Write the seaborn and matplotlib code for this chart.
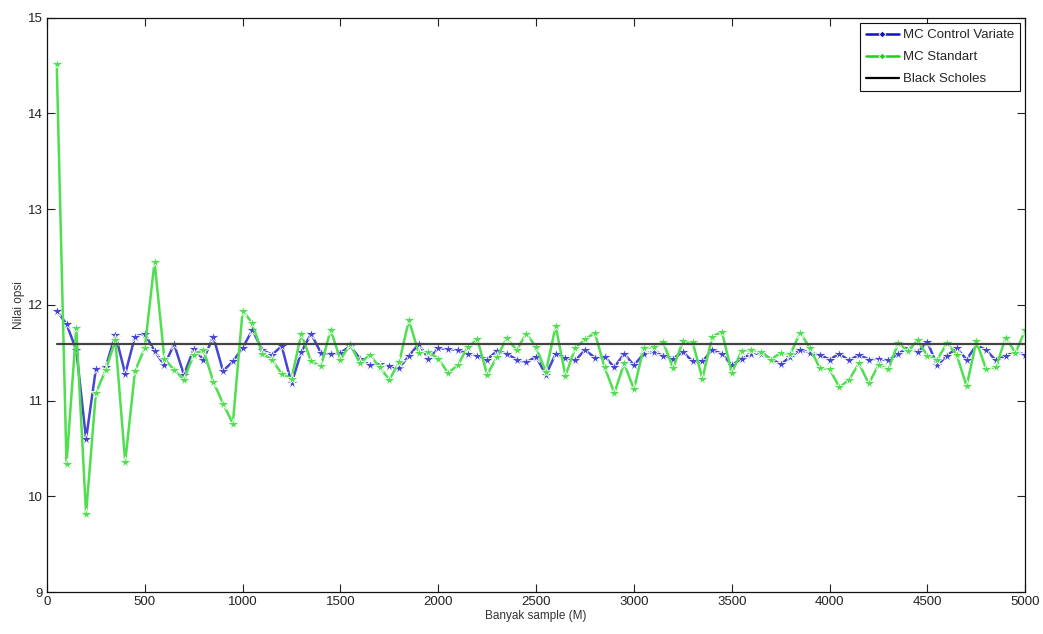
import matplotlib
matplotlib.use("Agg")
import matplotlib.pyplot as plt
import seaborn as sns
import pandas as pd

sample_sizes = list(range(50, 5001, 50))

mc_control_variate = [
    11.94, 11.80, 11.53, 10.60, 11.33, 11.35, 11.69, 11.28, 11.67, 11.70,
    11.52, 11.37, 11.59, 11.27, 11.54, 11.43, 11.67, 11.31, 11.41, 11.55,
    11.74, 11.53, 11.48, 11.57, 11.18, 11.51, 11.70, 11.50, 11.49, 11.50,
    11.57, 11.44, 11.37, 11.38, 11.36, 11.34, 11.47, 11.59, 11.44, 11.55,
    11.54, 11.53, 11.49, 11.47, 11.43, 11.52, 11.49, 11.43, 11.40, 11.46,
    11.27, 11.49, 11.45, 11.42, 11.53, 11.45, 11.46, 11.35, 11.49, 11.37,
    11.49, 11.51, 11.47, 11.44, 11.51, 11.41, 11.41, 11.53, 11.49, 11.37,
    11.44, 11.49, 11.49, 11.44, 11.38, 11.46, 11.53, 11.50, 11.48, 11.43,
    11.49, 11.42, 11.48, 11.43, 11.44, 11.42, 11.49, 11.55, 11.51, 11.61,
    11.37, 11.47, 11.55, 11.43, 11.58, 11.53, 11.42, 11.47, 11.51, 11.48,
]

mc_standart = [
    14.52, 10.34, 11.76, 9.82, 11.08, 11.32, 11.63, 10.36, 11.31, 11.55,
    12.45, 11.44, 11.32, 11.22, 11.48, 11.53, 11.20, 10.97, 10.76, 11.94,
    11.81, 11.49, 11.43, 11.28, 11.23, 11.70, 11.41, 11.36, 11.74, 11.43,
    11.59, 11.39, 11.48, 11.35, 11.22, 11.40, 11.84, 11.50, 11.51, 11.44,
    11.29, 11.37, 11.56, 11.64, 11.27, 11.46, 11.65, 11.53, 11.70, 11.56,
    11.30, 11.78, 11.26, 11.55, 11.64, 11.71, 11.35, 11.08, 11.39, 11.12,
    11.55, 11.56, 11.61, 11.34, 11.62, 11.61, 11.23, 11.67, 11.72, 11.29,
    11.52, 11.53, 11.51, 11.43, 11.50, 11.49, 11.71, 11.55, 11.34, 11.33,
    11.14, 11.22, 11.39, 11.18, 11.37, 11.33, 11.60, 11.52, 11.63, 11.47,
    11.43, 11.60, 11.48, 11.15, 11.62, 11.33, 11.35, 11.66, 11.50, 11.74,
]

black_scholes = 11.59

labels = ["MC Control Variate", "MC Standart", "Black Scholes"]
x_ticks = [0, 500, 1000, 1500, 2000, 2500, 3000, 3500, 4000, 4500, 5000]
y_ticks = [9, 10, 11, 12, 13, 14, 15]

sns.set_style("white")
plt.rcParams["font.family"] = ["Liberation Sans", "DejaVu Sans"]

df = pd.DataFrame({
    "M": sample_sizes,
    "cv": mc_control_variate,
    "std": mc_standart,
    "bs": [black_scholes] * len(sample_sizes),
})

fig = plt.figure(figsize=(10.43, 6.34), dpi=100)
ax = fig.add_axes([0.045, 0.066, 0.938, 0.906])

sns.lineplot(data=df, x="M", y="cv", ax=ax, color="#4646d2", marker="*",
             markersize=8.5, markeredgewidth=0.6, linewidth=1.8, label=labels[0])
sns.lineplot(data=df, x="M", y="std", ax=ax, color="#4fdf4f", marker="*",
             markersize=8.5, markeredgewidth=0.6, linewidth=1.8, label=labels[1])
sns.lineplot(data=df, x="M", y="bs", ax=ax, color="#444444", linewidth=1.6,
             label=labels[2])

ax.set_xlim(0, 5000)
ax.set_ylim(9, 15)
ax.set_xticks(x_ticks)
ax.set_yticks(y_ticks)
ax.set_xlabel("Banyak sample (M)", fontsize=8.5, color="#333333", labelpad=1)
ax.set_ylabel("Nilai opsi", fontsize=8.5, color="#333333", labelpad=2)
ax.tick_params(direction="in", length=6, width=0.8, labelsize=9.5,
               colors="#222222", top=True, right=True, bottom=True, left=True,
               labeltop=False, labelright=False, pad=3)
for s in ax.spines.values():
    s.set_visible(True)
    s.set_color("#111111")
    s.set_linewidth(0.9)

leg = ax.legend(loc="upper right", fontsize=9.5, frameon=True, fancybox=False,
                edgecolor="#111111", framealpha=1, handlelength=2.5,
                borderpad=0.45, labelspacing=0.75, handletextpad=0.3,
                borderaxespad=0.4)
leg.get_frame().set_linewidth(0.8)
leg.get_lines()[0].set_color("#1010c8")
leg.get_lines()[1].set_color("#22cc22")
leg.get_lines()[2].set_color("#000000")
for ln in leg.get_lines()[:2]:
    ln.set_marker("D")
    ln.set_markersize(3.5)

fig.savefig("out.png", dpi=100)
